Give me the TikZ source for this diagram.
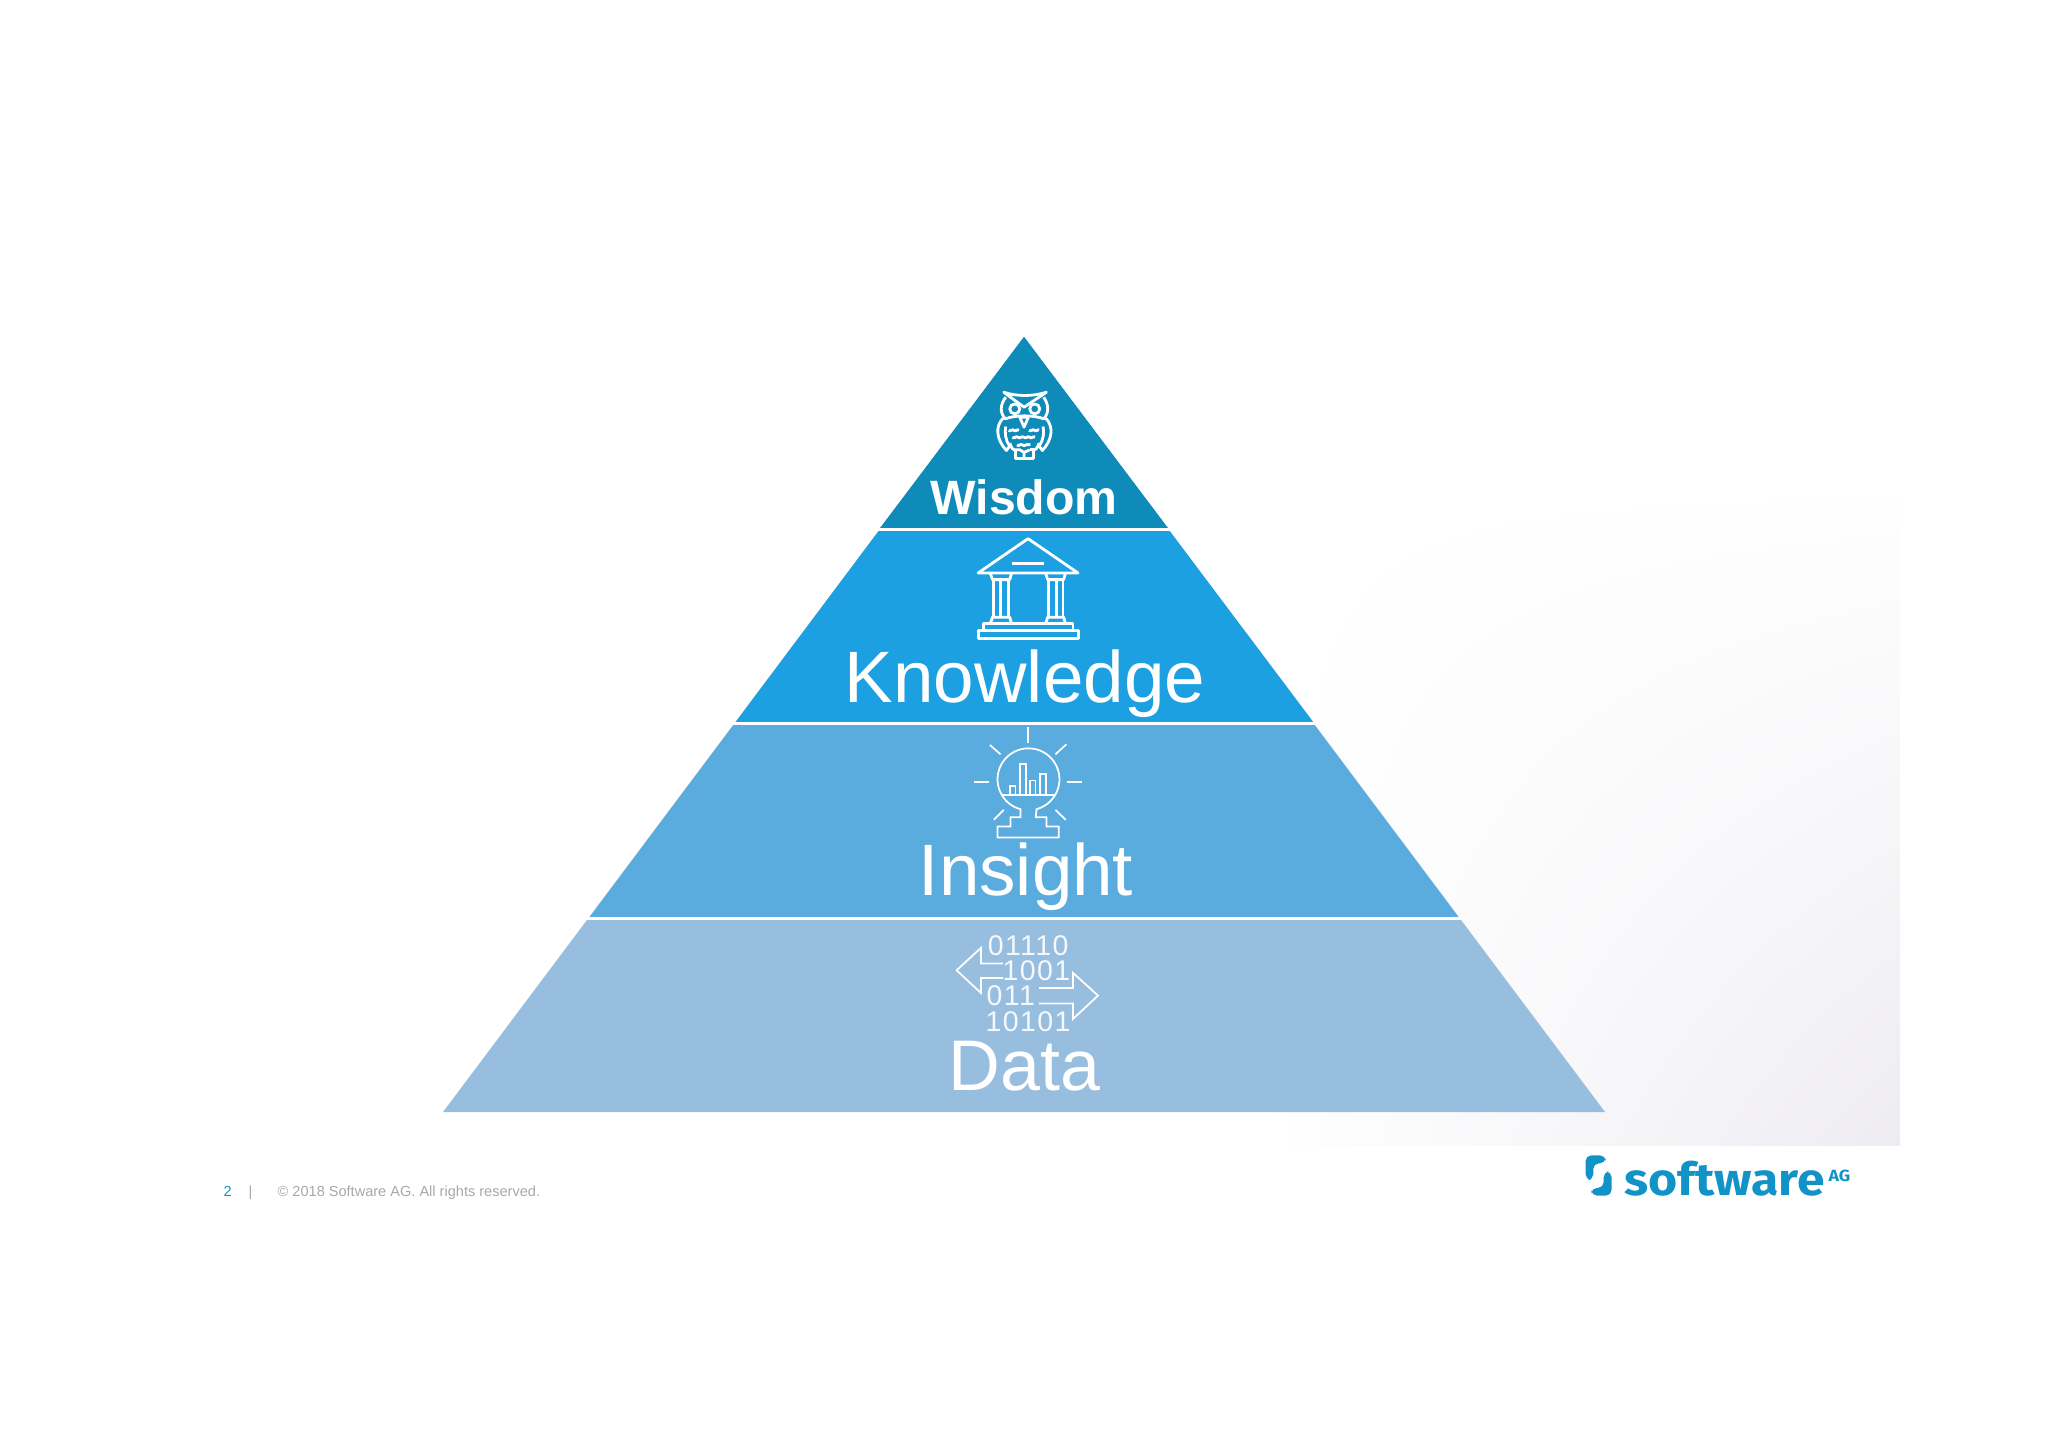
\documentclass[tikz,border=0pt]{standalone}
\usepackage{fontspec}
\setmainfont{Liberation Sans}
\newfontfamily\logofont[FakeStretch=1.1]{Fira Sans}
\newfontfamily\bitfont[LetterSpace=5]{Liberation Sans}
\usetikzlibrary{shadings}
\definecolor{wisdomblue}{RGB}{15,139,186}
\definecolor{knowledgeblue}{RGB}{28,160,226}
\definecolor{insightblue}{RGB}{90,171,222}
\definecolor{datablue}{RGB}{151,189,223}
\definecolor{logoblue}{RGB}{18,147,200}
\definecolor{footergrey}{RGB}{168,168,168}
\definecolor{cornergrey}{RGB}{238,236,241}
\tikzset{
  tierlabel/.style={anchor=base, inner sep=0pt, text=white, font=\fontsize{20.7}{24}\selectfont},
  bitlabel/.style={anchor=base, inner sep=0pt, text=white!90!datablue, font=\bitfont\fontsize{8.1}{10}\selectfont},
  footerlabel/.style={anchor=base west, inner sep=0pt, text=footergrey, font=\fontsize{4.14}{6}\selectfont},
  iconline/.style={draw=white, line width=0.8pt, line join=round},
  thinicon/.style={draw=white, line width=0.5pt, line join=miter},
  tierline/.style={draw=white, line width=0.85pt}
}
\begin{document}
\begin{tikzpicture}[x=0.01cm, y=-0.01cm]
      \useasboundingbox (0,0) rectangle (2048,1447);
      % Background corner
      \shade[upper left=white, upper right=white, lower left=white, lower right=cornergrey] (1270,480) rectangle (1900,1145);

      % Pyramid tiers
      \fill[datablue] (443,1112) -- (1605,1112) -- (1024,337) -- cycle;
      \fill[insightblue] (589,918) -- (1459,918) -- (1024,337) -- cycle;
      \fill[knowledgeblue] (735,723) -- (1314,723) -- (1024,337) -- cycle;
      \fill[wisdomblue] (880,528) -- (1168,528) -- (1024,337) -- cycle;
      \coordinate (wisdomleft) at (878,529);
      \coordinate (wisdomright) at (1170,529);
      \coordinate (knowledgeleft) at (733,723.5);
      \coordinate (knowledgeright) at (1316,723.5);
      \coordinate (insightleft) at (587,918);
      \coordinate (insightright) at (1461,918);
      \draw[tierline] (wisdomleft) -- (wisdomright);
      \draw[tierline] (knowledgeleft) -- (knowledgeright);
      \draw[tierline] (insightleft) -- (insightright);

      % Labels
      \node[tierlabel, font=\fontsize{13.7}{16}\bfseries] (wisdom) at (1024,514) {Wisdom};
      \node[tierlabel] (knowledge) at (1025,702) {Knowledge};
      \node[tierlabel] (insight) at (1026,895) {Insight};
      \node[tierlabel, font=\fontsize{20.4}{24}\selectfont] (data) at (1024.5,1090) {Data};

      % Owl
      \begin{scope}[shift={(860,320)}, x=0.00333cm, y=-0.00333cm]
        \draw[iconline] (432,217) .. controls (470,230) and (520,230) .. (560,217) -- (493,262) -- cycle;
        \draw[iconline] (438,232) .. controls (420,255) and (420,280) .. (437,297) .. controls (465,285) and (525,285) .. (552,297) .. controls (568,280) and (568,255) .. (552,232);
        \draw[iconline] (465,267) circle (15);
        \draw[iconline] (525,267) circle (15);
        \draw[iconline] (480,292) -- (506,292) -- (493,322) -- cycle;
        \draw[iconline] (430,295) .. controls (405,320) and (410,360) .. (440,392) -- (450,378) .. controls (435,360) and (435,335) .. (438,320);
        \draw[iconline] (558,295) .. controls (583,320) and (578,360) .. (548,392) -- (538,378) .. controls (553,360) and (553,335) .. (550,320);
        \draw[iconline] (450,370) .. controls (455,385) and (460,390) .. (466,392);
        \draw[iconline] (538,370) .. controls (533,385) and (528,390) .. (522,392);
        \draw[iconline] (466,390) -- (466,415) -- (522,415) -- (522,390) -- (510,390);
        \draw[iconline] (493,415) -- (493,398) -- (480,390) -- (466,390);
        \draw[iconline] (493,398) -- (510,390);
        \draw[iconline] (447,331) .. controls (452,338) and (456,326) .. (462,331) .. controls (467,338) and (472,326) .. (478,331);
        \draw[iconline] (508,331) .. controls (513,338) and (518,326) .. (524,331) .. controls (529,338) and (534,326) .. (538,331);
        \draw[iconline] (458,352) .. controls (463,359) and (468,347) .. (474,352) .. controls (480,359) and (486,347) .. (492,352) .. controls (498,359) and (504,347) .. (510,352) .. controls (515,359) and (520,347) .. (526,352);
        \draw[iconline] (472,375) .. controls (477,382) and (482,370) .. (488,375) .. controls (494,382) and (500,370) .. (512,375);
      \end{scope}

      % Temple
      \begin{scope}[shift={(860,320)}, x=0.00333cm, y=-0.00333cm]
        \draw[iconline] (355,760) -- (505,657) -- (655,760) -- cycle;
        \draw[iconline] (457,732) -- (552,732);
        \draw[iconline] (392,762) -- (398,780) -- (450,780) -- (455,762);
        \draw[iconline] (558,762) -- (564,780) -- (612,780) -- (617,762);
        \draw[iconline] (402,780) -- (402,893);
        \draw[iconline] (423,780) -- (423,893);
        \draw[iconline] (445,780) -- (445,893);
        \draw[iconline] (567,780) -- (567,893);
        \draw[iconline] (590,780) -- (590,893);
        \draw[iconline] (610,780) -- (610,893);
        \draw[iconline] (392,911) -- (398,893) -- (450,893) -- (455,911);
        \draw[iconline] (558,911) -- (564,893) -- (612,893) -- (617,911);
        \draw[iconline] (370,933) -- (370,911) -- (640,911) -- (640,933);
        \draw[iconline] (355,933) rectangle (657,957);
      \end{scope}

      % Globe
      \begin{scope}[shift={(900,710)}, x=0.00333cm, y=-0.00333cm]
        \draw[thinicon] (385,52) -- (385,100);
        \draw[thinicon] (270,105) -- (302,133);
        \draw[thinicon] (500,103) -- (467,133);
        \draw[thinicon] (222,216) -- (268,216);
        \draw[thinicon] (502,216) -- (548,216);
        \draw[thinicon] (312,300) -- (282,330);
        \draw[thinicon] (467,300) -- (498,330);
        \draw[thinicon] (362,298) arc[start angle=105, end angle=435, radius=93] -- (408,322) -- (440,322) -- (440,350) -- (477,350) -- (477,383) -- (293,383) -- (293,350) -- (332,350) -- (332,322) -- (362,322) -- cycle;
        \draw[thinicon] (307,255) -- (463,255);
        \draw[thinicon] (330,255) -- (330,228) -- (347,228) -- (347,255);
        \draw[thinicon] (360,255) -- (360,162) -- (378,162) -- (378,255);
        \draw[thinicon] (391,255) -- (391,212) -- (407,212) -- (407,255);
        \draw[thinicon] (420,255) -- (420,193) -- (438,193) -- (438,255);
      \end{scope}

      % Bits and arrows
      \begin{scope}[shift={(900,710)}, x=0.00333cm, y=-0.00333cm]
        \draw[thinicon] (310,762) -- (243,762) -- (243,715) -- (170,782) -- (243,850) -- (243,805) -- (310,805);
        \draw[thinicon] (418,835) -- (520,835) -- (520,790) -- (595,858) -- (520,928) -- (520,882) -- (418,882);
        \node[bitlabel] (bitsa) at (385,738) {01110};
        \node[bitlabel] (bitsb) at (410,813) {1001};
        \node[bitlabel] (bitsc) at (333,887) {011};
        \node[bitlabel] (bitsd) at (385,965) {10101};
      \end{scope}

      % Footer
      \node[footerlabel, text=logoblue] (pagenum) at (223,1196) {2};
      \node[footerlabel] (pagesep) at (248,1196) {|};
      \node[footerlabel] (copyright) at (277,1196) {© 2018 Software AG. All rights reserved.};

      % Logo
      \begin{scope}[shift={(1560,1130)}, x=0.00333cm, y=-0.00333cm]
        \fill[logoblue, rounded corners=1.6pt] (137,76) -- (77,76) -- (77,150) -- (100,150) -- (100,100) -- (137,100) -- cycle;
        \fill[logoblue, rounded corners=1.6pt] (155,125) -- (155,197) -- (94,197) -- (94,174) -- (131,174) -- (131,125) -- cycle;
        \node[anchor=base west, inner sep=0pt, text=logoblue, font=\logofont\fontsize{12.9}{15}\bfseries] (logoname) at (192,197) {software};
        \node[anchor=base west, inner sep=0pt, text=logoblue, font=\logofont\fontsize{4.6}{6}\bfseries] (logoag) at (805,155) {AG};
      \end{scope}
    \end{tikzpicture}
\end{document}
